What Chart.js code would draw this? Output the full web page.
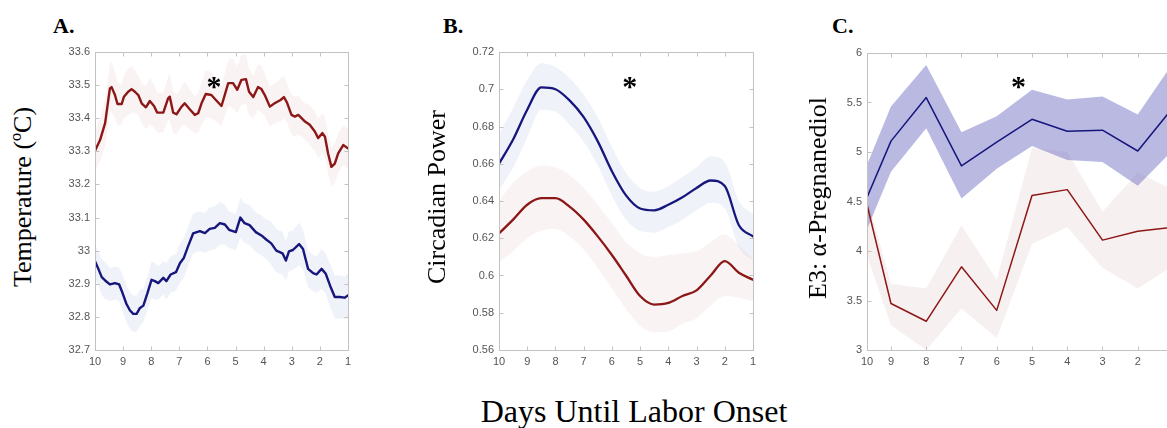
<!DOCTYPE html>
<html>
<head>
<meta charset="utf-8">
<script src="https://cdn.jsdelivr.net/npm/chart.js@4.4.1/dist/chart.umd.min.js"></script>
<style>
  html, body { margin: 0; padding: 0; background: #fff; width: 1167px; height: 428px; overflow: hidden; }
  .box { position: absolute; }
  .panel { position: absolute; font: bold 22px "Liberation Serif", "Times New Roman", serif; color: #000; line-height: 22px; }
  .ylab { position: absolute; font: 26px "Liberation Serif", "Times New Roman", serif; color: #000; white-space: nowrap;
          line-height: 26px; transform: translate(-50%, -50%) rotate(-90deg); }
  .xlab { position: absolute; font: 32px "Liberation Serif", "Times New Roman", serif; color: #000; white-space: nowrap;
          line-height: 32px; transform: translateX(-50%); }
</style>
</head>
<body>
<div class="panel" style="left:53px;top:15px">A.</div>
<div class="panel" style="left:443px;top:15px">B.</div>
<div class="panel" style="left:832px;top:15px">C.</div>

<div class="box" style="left:45px;top:40px;width:313px;height:332px"><canvas id="tempChart"></canvas></div>
<div class="box" style="left:449px;top:40px;width:314px;height:332px"><canvas id="powerChart"></canvas></div>
<div class="box" style="left:817px;top:41px;width:366px;height:331px"><canvas id="e3Chart"></canvas></div>

<div class="ylab" style="left:23px;top:197px">Temperature (ºC)</div>
<div class="ylab" style="left:437px;top:197px">Circadian Power</div>
<div class="ylab" style="left:818px;top:198px">E3: α-Pregnanediol</div>
<div class="xlab" style="left:634px;top:395px">Days Until Labor Onset</div>

<script>
// x tick labels (days until labor onset)
const dayTicks = [10, 9, 8, 7, 6, 5, 4, 3, 2, 1];

// A. Temperature - red group
const tempRedDays = [10, 9.82, 9.64, 9.47, 9.41, 9.29, 9.20, 9.05, 8.97, 8.82,
  8.70, 8.58, 8.46, 8.34, 8.19, 8.05, 7.90, 7.79, 7.57, 7.40,
  7.34, 7.22, 7.10, 6.92, 6.81, 6.63, 6.45, 6.33, 6.21, 6.06,
  5.86, 5.70, 5.50, 5.26, 5.09, 4.94, 4.79, 4.63, 4.52, 4.37,
  4.20, 4.08, 3.96, 3.78, 3.61, 3.40, 3.28, 3.17, 3.01, 2.89,
  2.77, 2.65, 2.53, 2.36, 2.18, 2.06, 1.91, 1.82, 1.71, 1.59,
  1.47, 1.35, 1.17, 1.0];
const tempRed = [33.302, 33.334, 33.385, 33.49, 33.494, 33.47, 33.443, 33.443, 33.465, 33.48,
  33.488, 33.48, 33.47, 33.445, 33.433, 33.452, 33.437, 33.417, 33.417, 33.46,
  33.465, 33.417, 33.412, 33.435, 33.445, 33.427, 33.41, 33.415, 33.445, 33.473,
  33.47, 33.455, 33.437, 33.506, 33.506, 33.486, 33.516, 33.518, 33.48, 33.464,
  33.494, 33.488, 33.47, 33.435, 33.445, 33.455, 33.464, 33.447, 33.41, 33.405,
  33.41, 33.40, 33.39, 33.38, 33.36, 33.34, 33.355, 33.344, 33.294, 33.253,
  33.263, 33.294, 33.319, 33.309];
const tempRedSem = [0.060, 0.065, 0.070, 0.075, 0.075, 0.070, 0.065, 0.060, 0.065, 0.070,
  0.070, 0.065, 0.060, 0.060, 0.065, 0.070, 0.065, 0.060, 0.060, 0.065,
  0.070, 0.065, 0.060, 0.060, 0.065, 0.060, 0.055, 0.060, 0.065, 0.070,
  0.070, 0.065, 0.060, 0.070, 0.075, 0.070, 0.075, 0.075, 0.070, 0.065,
  0.070, 0.070, 0.065, 0.060, 0.060, 0.065, 0.065, 0.060, 0.060, 0.060,
  0.060, 0.055, 0.055, 0.060, 0.060, 0.060, 0.060, 0.060, 0.060, 0.060,
  0.060, 0.060, 0.060, 0.060];

// A. Temperature - blue group
const tempBlueDays = [10, 9.88, 9.76, 9.64, 9.47, 9.29, 9.14, 9.02, 8.88, 8.76,
  8.64, 8.52, 8.40, 8.28, 8.14, 7.99, 7.87, 7.75, 7.57, 7.46,
  7.31, 7.12, 6.98, 6.84, 6.69, 6.51, 6.27, 6.09, 5.92, 5.74,
  5.56, 5.38, 5.23, 4.99, 4.83, 4.68, 4.50, 4.28, 4.08, 3.90,
  3.73, 3.55, 3.33, 3.21, 3.10, 2.96, 2.74, 2.60, 2.42, 2.24,
  2.12, 1.94, 1.79, 1.64, 1.47, 1.29, 1.12, 1.0];
const tempBlue = [32.968, 32.945, 32.92, 32.91, 32.898, 32.902, 32.898, 32.872, 32.839, 32.82,
  32.809, 32.809, 32.827, 32.834, 32.87, 32.912, 32.908, 32.902, 32.918, 32.908,
  32.928, 32.935, 32.962, 32.978, 33.013, 33.052, 33.059, 33.053, 33.066, 33.069,
  33.083, 33.079, 33.063, 33.056, 33.10, 33.083, 33.077, 33.056, 33.046, 33.033,
  33.022, 33.0, 32.992, 32.97, 32.998, 33.002, 33.02, 33.005, 32.945, 32.932,
  32.928, 32.945, 32.93, 32.895, 32.86, 32.86, 32.858, 32.865];
const tempBlueSem = [0.050, 0.050, 0.055, 0.055, 0.050, 0.050, 0.050, 0.055, 0.055, 0.055,
  0.055, 0.055, 0.055, 0.050, 0.050, 0.055, 0.055, 0.050, 0.050, 0.055,
  0.055, 0.055, 0.060, 0.060, 0.060, 0.060, 0.060, 0.060, 0.065, 0.065,
  0.065, 0.060, 0.055, 0.055, 0.060, 0.060, 0.060, 0.060, 0.060, 0.060,
  0.065, 0.065, 0.065, 0.060, 0.060, 0.060, 0.065, 0.060, 0.055, 0.055,
  0.055, 0.060, 0.060, 0.065, 0.065, 0.065, 0.065, 0.065];

// B. Circadian power
const powerDays = [10, 9.5, 9, 8.5, 8, 7.5, 7, 6.5, 6, 5.5, 5, 4.5, 4, 3.5, 3, 2.5, 2, 1.5, 1];
const powerBlue = [0.660, 0.673, 0.689, 0.701, 0.700, 0.694, 0.685, 0.672, 0.656, 0.643,
  0.636, 0.635, 0.638, 0.642, 0.647, 0.651, 0.648, 0.627, 0.621];
const powerBlueHi = [0.676, 0.690, 0.705, 0.714, 0.712, 0.706, 0.697, 0.685, 0.669, 0.655,
  0.647, 0.645, 0.648, 0.653, 0.658, 0.664, 0.661, 0.640, 0.633];
const powerBlueLo = [0.646, 0.658, 0.674, 0.689, 0.688, 0.681, 0.672, 0.659, 0.643, 0.630,
  0.624, 0.623, 0.626, 0.630, 0.635, 0.639, 0.636, 0.615, 0.608];
const powerRed = [0.6226, 0.630, 0.638, 0.6415, 0.6415, 0.637, 0.630, 0.621, 0.611, 0.600,
  0.589, 0.5844, 0.5853, 0.589, 0.592, 0.600, 0.6077, 0.6015, 0.5977];
const powerRedHi = [0.640, 0.650, 0.656, 0.659, 0.658, 0.654, 0.647, 0.638, 0.628, 0.618,
  0.612, 0.610, 0.611, 0.612, 0.613, 0.618, 0.622, 0.616, 0.609];
const powerRedLo = [0.607, 0.613, 0.620, 0.624, 0.625, 0.621, 0.614, 0.604, 0.593, 0.582,
  0.573, 0.5695, 0.570, 0.574, 0.577, 0.584, 0.589, 0.588, 0.586];

// C. E3: alpha-pregnanediol (first sample sits at the left axis edge)
const e3Pos = [9.68, 9, 8, 7, 6, 5, 4, 3, 2, 1];
const e3Labels = ['10', '9', '8', '7', '6', '5', '4', '3', '2', '1'];
const e3Blue = [4.54, 5.11, 5.55, 4.86, 5.10, 5.33, 5.21, 5.22, 5.01, 5.45];
const e3BlueHi = [4.87, 5.46, 5.88, 5.20, 5.36, 5.63, 5.53, 5.56, 5.38, 5.90];
const e3BlueLo = [4.22, 4.80, 5.24, 4.53, 4.83, 5.06, 4.92, 4.90, 4.66, 5.02];
const e3Red = [4.47, 3.47, 3.29, 3.84, 3.40, 4.56, 4.62, 4.11, 4.20, 4.24];
const e3RedHi = [4.55, 3.67, 3.62, 4.26, 3.71, 5.04, 5.00, 4.40, 4.79, 4.62];
const e3RedLo = [3.95, 3.25, 3.00, 3.42, 3.12, 4.07, 4.24, 3.83, 3.62, 3.85];

// significance markers [x, y]
const starTemp = [5.77, 33.51];
const starPower = [5.37, 0.704];
const starE3 = [5.38, 5.71];

const FONT = '"Liberation Sans", Arial, sans-serif';
const TICK_COLOR = '#555555';
const RED = '#8c1717';
const BLUE = '#16167c';

function pts(xs, ys) {
  return xs.map((x, i) => ({ x: x, y: ys[i] }));
}

function lineSet(xs, ys, color, width, smooth) {
  return {
    data: pts(xs, ys), borderColor: color, borderWidth: width, fill: false, order: 0,
    pointRadius: 0, borderJoinStyle: 'round', borderCapStyle: 'round',
    cubicInterpolationMode: smooth ? 'monotone' : 'default', tension: 0
  };
}

// upper edge fills down to the lower edge (next dataset)
function bandSets(xs, hi, lo, color, order, smooth) {
  const common = { borderWidth: 0, pointRadius: 0, order: order,
    cubicInterpolationMode: smooth ? 'monotone' : 'default', tension: 0 };
  return [
    Object.assign({ data: pts(xs, hi), backgroundColor: color, fill: '+1' }, common),
    Object.assign({ data: pts(xs, lo), backgroundColor: color, fill: false }, common)
  ];
}

// MATLAB style box with inward ticks, plus the asterisk
const boxPlugin = {
  id: 'matlabBox',
  afterDraw(chart, args, opts) {
    const { ctx, chartArea: a, scales } = chart;
    const L = Math.round(a.left) + 0.5, R = Math.round(a.right) + 0.5;
    const T = Math.round(a.top) + 0.5, B = Math.round(a.bottom) + 0.5;
    ctx.save();
    ctx.strokeStyle = '#c2c2c2';
    ctx.lineWidth = 1;
    ctx.strokeRect(L, T, R - L, B - T);
    ctx.beginPath();
    scales.x.ticks.forEach(t => {
      const px = Math.round(scales.x.getPixelForValue(t.value)) + 0.5;
      ctx.moveTo(px, B); ctx.lineTo(px, B - 4);
      ctx.moveTo(px, T); ctx.lineTo(px, T + 4);
    });
    scales.y.ticks.forEach(t => {
      const py = Math.round(scales.y.getPixelForValue(t.value)) + 0.5;
      ctx.moveTo(L, py); ctx.lineTo(L + 4, py);
      ctx.moveTo(R, py); ctx.lineTo(R - 4, py);
    });
    ctx.stroke();
    if (opts.star) {
      ctx.fillStyle = '#000';
      ctx.font = 'bold 30px "Liberation Serif", serif';
      ctx.textAlign = 'center';
      ctx.textBaseline = 'alphabetic';
      ctx.fillText('*', scales.x.getPixelForValue(opts.star[0]),
        scales.y.getPixelForValue(opts.star[1]) + 14);
    }
    ctx.restore();
  }
};

function trimNum(v) {
  return String(+Number(v).toFixed(2));
}

function makeChart(id, datasets, xMax, xTicks, xLabels, yMin, yMax, yStep, star) {
  return new Chart(document.getElementById(id), {
    type: 'line',
    data: { datasets: datasets },
    options: {
      responsive: true,
      maintainAspectRatio: false,
      animation: false,
      layout: { padding: { top: 12, right: 10, left: 0, bottom: 0 } },
      plugins: { legend: { display: false }, tooltip: { enabled: false }, matlabBox: { star: star } },
      scales: {
        x: {
          type: 'linear', reverse: true, min: 1, max: xMax,
          afterBuildTicks: s => { s.ticks = xTicks.map(v => ({ value: v })); },
          afterFit: s => { s.height = 22; },
          grid: { display: false, drawTicks: false },
          border: { display: false },
          ticks: {
            autoSkip: false, maxRotation: 0, padding: 5, color: TICK_COLOR,
            font: { family: FONT, size: 11 },
            callback: (v, i) => xLabels[i]
          }
        },
        y: {
          min: yMin, max: yMax,
          afterFit: s => { s.width = 50; },
          grid: { display: false, drawTicks: false },
          border: { display: false },
          ticks: {
            stepSize: yStep, padding: 5, color: TICK_COLOR,
            font: { family: FONT, size: 11 },
            callback: v => trimNum(v)
          }
        }
      }
    },
    plugins: [boxPlugin]
  });
}

const dayLabels = dayTicks.map(String);

makeChart('tempChart', [
  lineSet(tempRedDays, tempRed, RED, 2.4, false),
  lineSet(tempBlueDays, tempBlue, BLUE, 2.4, false),
  ...bandSets(tempRedDays, tempRed.map((v, i) => v + tempRedSem[i]), tempRed.map((v, i) => v - tempRedSem[i]),
    'rgba(215,160,160,0.12)', 2, false),
  ...bandSets(tempBlueDays, tempBlue.map((v, i) => v + tempBlueSem[i]), tempBlue.map((v, i) => v - tempBlueSem[i]),
    'rgba(150,160,215,0.14)', 1, false)
], 10, dayTicks, dayLabels, 32.7, 33.6, 0.1, starTemp);

makeChart('powerChart', [
  lineSet(powerDays, powerBlue, BLUE, 2.3, true),
  lineSet(powerDays, powerRed, RED, 2.3, true),
  ...bandSets(powerDays, powerRedHi, powerRedLo, 'rgba(215,160,160,0.13)', 2, true),
  ...bandSets(powerDays, powerBlueHi, powerBlueLo, 'rgba(150,160,215,0.14)', 1, true)
], 10, dayTicks, dayLabels, 0.56, 0.72, 0.02, starPower);

makeChart('e3Chart', [
  lineSet(e3Pos, e3Blue, BLUE, 1.5, false),
  lineSet(e3Pos, e3Red, RED, 1.5, false),
  ...bandSets(e3Pos, e3RedHi, e3RedLo, 'rgba(200,150,150,0.14)', 2, false),
  ...bandSets(e3Pos, e3BlueHi, e3BlueLo, 'rgba(100,100,190,0.45)', 1, false)
], 9.68, e3Pos, e3Labels, 3, 6, 0.5, starE3);
</script>
</body>
</html>
